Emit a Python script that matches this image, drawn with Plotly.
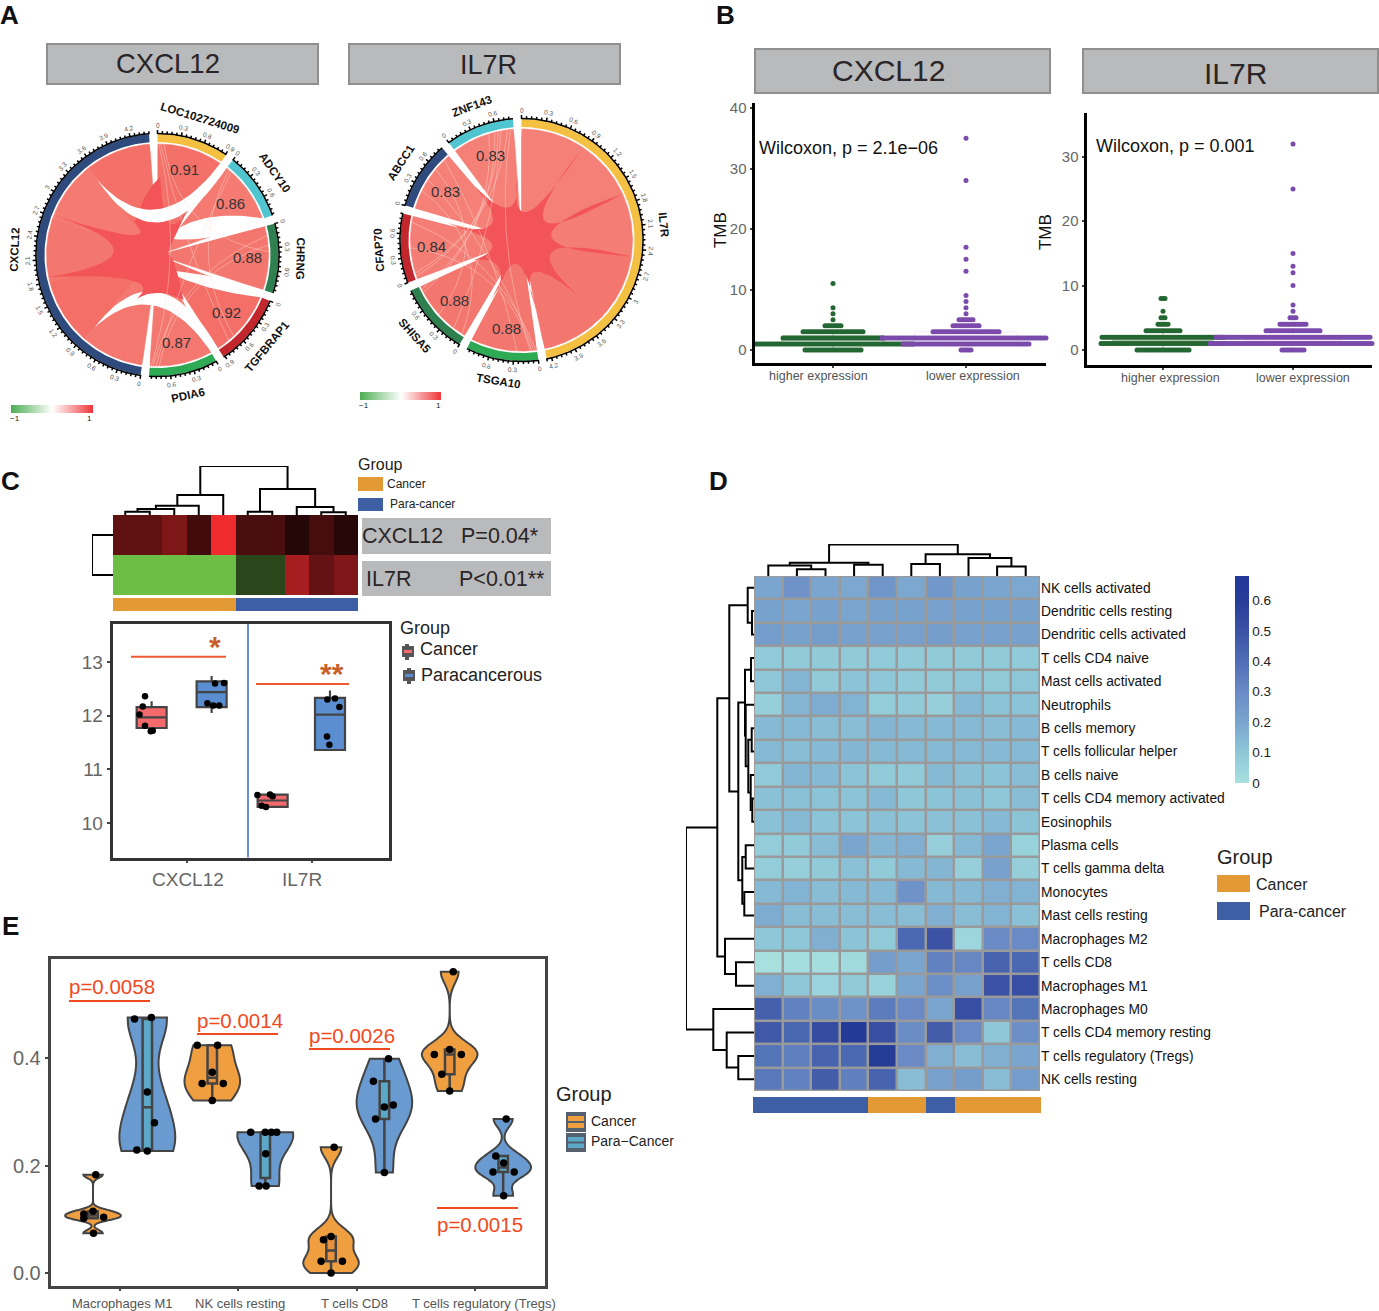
import math
import plotly.graph_objects as go

W, H = 1379, 1311
FONT = "Liberation Sans"

# ---------- Panel A data
A1_GENES = ["LOC102724009", "ADCY10", "CHRNG", "TGFBRAP1", "PDIA6"]
A1_CORR = [0.91, 0.86, 0.88, 0.92, 0.87]
A1_COLORS = ["#f4c042", "#4ec5cf", "#2f8050", "#c2272d", "#2eaa55"]
A1_HUB = "CXCL12"
A1_HUB_COLOR = "#2f4a7d"
A2_GENES = ["TSGA10", "SHISA5", "CFAP70", "ABCC1", "ZNF143"]
A2_CORR = [0.88, 0.88, 0.84, 0.83, 0.83]
A2_COLORS = ["#2eaa55", "#2f8050", "#c2272d", "#2f4a7d", "#4ec5cf"]
A2_HUB = "IL7R"
A2_HUB_COLOR = "#f4c042"
CBAR_VALUES = [-1, -0.5, 0, 0.5, 1]

# ---------- Panel B data (TMB level, number of samples at that level)
B1_HIGH_LEVELS = [0, 1, 2, 3, 4, 5, 6, 7, 11]
B1_HIGH_COUNTS = [29, 81, 51, 31, 9, 1, 1, 1, 1]
B1_LOW_LEVELS = [0, 1, 2, 3, 4, 5, 6, 7, 8, 9, 13, 15, 17, 28, 35]
B1_LOW_COUNTS = [6, 64, 85, 34, 14, 8, 1, 1, 1, 1, 1, 1, 1, 1, 1]
B2_HIGH_LEVELS = [0, 1, 2, 3, 4, 5, 6, 8]
B2_HIGH_COUNTS = [27, 63, 62, 18, 6, 3, 1, 3]
B2_LOW_LEVELS = [0, 1, 2, 3, 4, 5, 6, 7, 10, 12, 13, 15, 25, 32]
B2_LOW_COUNTS = [12, 84, 78, 28, 14, 4, 1, 1, 1, 1, 1, 1, 1, 1]

# ---------- Panel C data
C_ROWS = ["CXCL12", "IL7R"]
C_HEAT = [
    [0.80, 0.80, 1.05, 0.55, 2.0, 0.63, 0.63, 0.32, 0.59, 0.33],
    [-2, -2, -2, -2, -2, -0.75, -0.75, 1.39, 0.84, 1.06],
]
C_GROUP = [0, 0, 0, 0, 0, 1, 1, 1, 1, 1]
C_TOP_MERGES = [(0, 1, 3.3), (10, 2, 6), (11, 3, 9.3), (12, 4, 20), (5, 6, 3.3),
                (8, 9, 2.7), (7, 15, 8), (14, 16, 26), (13, 17, 49)]
C_LEFT_MERGES = [(0, 1, 21)]
C_BOX_X = [0.717, 1.197, 1.685, 2.144]
C_BOX_FILL = ["#f4696b", "#5a8ed0", "#f4696b", "#5a8ed0"]
C_BOX_Q1 = [11.77, 12.16, 10.30, 11.36]
C_BOX_MED = [11.97, 12.44, 10.42, 12.02]
C_BOX_Q3 = [12.16, 12.64, 10.53, 12.33]
C_BOX_LOW = [11.67, 12.05, 10.30, 11.36]
C_BOX_UP = [12.27, 12.74, 10.53, 12.47]
C_PTS_X = [0.664, 0.646, 0.62, 0.664, 0.726, 0.71,
           1.224, 1.296, 1.163, 1.21, 1.258,
           1.563, 1.664, 1.685, 1.597, 1.632,
           2.123, 2.184, 2.219, 2.12, 2.139]
C_PTS_Y = [12.36, 12.17, 12.02, 11.81, 11.72, 11.71,
           12.6, 12.61, 12.23, 12.19, 12.19,
           10.52, 10.53, 10.5, 10.32, 10.3,
           12.3, 12.32, 12.16, 11.61, 11.46]

# ---------- Panel D data
D_ROWS = ["NK cells activated", "Dendritic cells resting", "Dendritic cells activated", "T cells CD4 naive",
          "Mast cells activated", "Neutrophils", "B cells memory", "T cells follicular helper", "B cells naive",
          "T cells CD4 memory activated", "Eosinophils", "Plasma cells", "T cells gamma delta", "Monocytes",
          "Mast cells resting", "Macrophages M2", "T cells CD8", "Macrophages M1", "Macrophages M0",
          "T cells CD4 memory resting", "T cells regulatory (Tregs)", "NK cells resting"]
D_HEAT = [
    [.20, .27, .20, .19, .26, .19, .25, .21, .20, .19],
    [.21, .20, .21, .20, .21, .21, .22, .21, .21, .21],
    [.23, .21, .23, .22, .22, .22, .23, .22, .22, .22],
    [.09, .09, .09, .09, .09, .09, .09, .09, .09, .09],
    [.10, .15, .09, .11, .10, .09, .09, .10, .09, .10],
    [.07, .15, .18, .16, .08, .09, .07, .14, .11, .11],
    [.14, .14, .13, .13, .15, .14, .14, .14, .13, .14],
    [.14, .13, .14, .15, .14, .14, .14, .14, .14, .14],
    [.09, .15, .14, .11, .09, .09, .14, .12, .11, .13],
    [.12, .12, .11, .11, .14, .10, .11, .12, .10, .13],
    [.12, .14, .11, .11, .12, .11, .12, .12, .14, .11],
    [.08, .09, .13, .20, .15, .17, .07, .14, .20, .06],
    [.08, .07, .09, .12, .09, .14, .15, .07, .22, .07],
    [.14, .16, .13, .14, .14, .27, .14, .14, .17, .16],
    [.18, .13, .13, .13, .13, .13, .17, .13, .16, .12],
    [.10, .10, .17, .11, .09, .42, .50, .04, .30, .30],
    [.00, .01, .01, .03, .23, .20, .33, .31, .44, .42],
    [.17, .10, .05, .09, .06, .20, .28, .22, .50, .52],
    [.45, .33, .29, .27, .35, .30, .20, .52, .31, .38],
    [.48, .43, .53, .65, .52, .29, .46, .30, .10, .28],
    [.38, .34, .44, .42, .60, .30, .17, .13, .17, .20],
    [.36, .33, .46, .34, .44, .13, .22, .23, .13, .23],
]
D_GROUP = [1, 1, 1, 1, 0, 0, 1, 0, 0, 0]
D_TOP_MERGES = [(1, 2, 6.8), (0, 10, 10.5), (3, 4, 11.3), (11, 12, 13.2), (5, 6, 12),
                (8, 9, 9.4), (7, 15, 18), (14, 16, 21.8), (13, 17, 31.6)]
D_LEFT_MERGES = [(1, 2, 2), (0, 22, 6.3), (3, 4, 3), (9, 10, 1.7), (8, 25, 3.3), (6, 7, 2.3),
                 (27, 26, 5.7), (5, 28, 8.3), (24, 29, 9), (11, 12, 8.3), (13, 14, 9.7),
                 (31, 32, 11.7), (30, 33, 15.7), (23, 34, 24.7), (16, 17, 18), (15, 36, 29),
                 (35, 37, 36.7), (20, 21, 15.7), (19, 39, 27.3), (18, 40, 40.7), (38, 41, 68)]

# ---------- Panel E data
E_CATS = ["Macrophages M1", "NK cells resting", "T cells CD8", "T cells regulatory (Tregs)"]
E_POS = [0.772, 1.231, 1.78, 2.228, 2.784, 3.235, 3.787, 4.239]
E_Y = [
    [.183, .115, .110, .102, .104, .074],
    [.473, .476, .337, .280, .229, .227],
    [.424, .424, .374, .353, .353, .321],
    [.262, .262, .262, .262, .222, .162, .162],
    [.234, .068, .062, .022, .022, 0],
    [.399, .357, .313, .309, .287, .187],
    [.561, .407, .416, .407, .370, .339],
    [.287, .218, .205, .188, .188, .144],
]
E_X = [
    [.795, .772, .694, .694, .862, .776],
    [1.123, 1.265, 1.231, 1.291, 1.142, 1.231],
    [1.653, 1.825, 1.78, 1.694, 1.873, 1.78],
    [2.105, 2.228, 2.28, 2.325, 2.232, 2.176, 2.235],
    [2.81, 2.784, 2.72, 2.70, 2.88, 2.784],
    [3.27, 3.142, 3.31, 3.235, 3.16, 3.235],
    [3.817, 3.657, 3.787, 3.885, 3.72, 3.787],
    [4.265, 4.176, 4.243, 4.153, 4.332, 4.243],
]
E_BW = [0.006, 0.05, 0.03, 0.032, 0.019, 0.042, 0.021, 0.015]
E_P = ["p=0.0058", "p=0.0014", "p=0.0026", "p=0.0015"]

fig = go.Figure()
layout_axes = {}
shapes = []
annots = []
_axn = [0]


def Y(y):
    # the page photograph sits a few pixels lower at the top than the layout coordinates
    return y * 1315 / 1311 - 4


def axes(x0, x1, y0, y1, xr, yr, xopts=None, yopts=None):
    _axn[0] += 1
    n = _axn[0]
    sx = "" if n == 1 else str(n)
    base = dict(visible=False, showgrid=False, zeroline=False, fixedrange=True)
    xa = dict(base, domain=[x0 / W, x1 / W], range=list(xr), anchor="y" + sx)
    ya = dict(base, domain=[1 - Y(y1) / H, 1 - Y(y0) / H], range=list(yr), anchor="x" + sx)
    xa.update(xopts or {})
    ya.update(yopts or {})
    layout_axes["xaxis" + sx] = xa
    layout_axes["yaxis" + sx] = ya
    return "x" + sx, "y" + sx


def txt(x, y, s, size=12, color="#222", anchor="left", angle=0, bold=False, xref="paper", yref="paper"):
    if xref == "paper":
        x = (x - 2 if anchor == "left" else x) / W
        y = 1 - Y(y) / H
    annots.append(dict(x=x, y=y, xref=xref, yref=yref, text=f"<b>{s}</b>" if bold else s, showarrow=False,
                       xanchor=anchor, yanchor="middle", textangle=angle,
                       font=dict(family=FONT, size=size, color=color)))


def rect(x0, y0, x1, y1, fill, line=None, lw=0):
    shapes.append(dict(type="rect", xref="paper", yref="paper", x0=x0 / W, x1=x1 / W, y0=1 - Y(y0) / H, y1=1 - Y(y1) / H,
                       fillcolor=fill, line=dict(color=line or fill, width=lw), layer="below"))


def pol(t, r):
    a = math.radians(t)
    return r * math.sin(a), r * math.cos(a)


def arc(a, b, r, step=1.5):
    n = max(2, int(abs(b - a) / step) + 1)
    return [pol(a + (b - a) * i / (n - 1), r) for i in range(n)]


def bez(p0, c, p1, n=26):
    out = []
    for i in range(n):
        t = i / (n - 1)
        out.append(((1 - t) ** 2 * p0[0] + 2 * t * (1 - t) * c[0] + t * t * p1[0],
                    (1 - t) ** 2 * p0[1] + 2 * t * (1 - t) * c[1] + t * t * p1[1]))
    return out


def poly(xa, ya, pts, color, lw=0.0):
    fig.add_trace(go.Scatter(x=[p[0] for p in pts], y=[p[1] for p in pts], mode="lines", fill="toself",
                             fillcolor=color, line=dict(color=color, width=lw), xaxis=xa, yaxis=ya,
                             hoverinfo="skip", showlegend=False))


GAP = 4.0
RC, R0, R1 = 111, 113, 121


def chord_panel(cx, cy, genes, corr, colors, hub, hub_color, hub_first, wedges_under, wedges_over, star, links):
    half = 157
    xa, ya = axes(cx - half, cx + half, cy - half, cy + half, (-half, half), (-half, half))
    total = sum(corr) * 2
    k = (360 - 6 * GAP) / total
    sec = {}
    cur = 0.0
    order = ([hub] + genes) if hub_first else (genes + [hub])
    vals = dict(zip(genes, corr))
    vals[hub] = sum(corr)
    cols = dict(zip(genes, colors))
    cols[hub] = hub_color
    for name in order:
        sec[name] = (cur, cur + vals[name] * k)
        cur += vals[name] * k + GAP
    hs, he = sec[hub]
    pos = he
    for g, v in zip(genes, corr):
        g0, g1 = sec[g]
        h0, h1 = pos - v * k, pos
        pos = h0
        s = (v - 0.83) / 0.09
        col = "rgb(%d,%d,%d)" % (245 - 2 * s, 128 - 16 * s, 120 - 16 * s)
        pts = arc(g0, g1, RC) + [(0, 0)] + arc(h0, h1, RC) + [(0, 0)]
        poly(xa, ya, pts, col, 0.6)
    for w in wedges_under:
        draw_wedge(xa, ya, w)
    # overlap star in the centre
    n = len(star)
    spts = []
    for i in range(n):
        t1, r1, v, tv = star[i]
        t2, r2 = star[(i + 1) % n][:2]
        p1, p2 = pol(t1, r1), pol(t2, r2)
        vp = pol(tv, v)
        c = (2 * vp[0] - (p1[0] + p2[0]) / 2, 2 * vp[1] - (p1[1] + p2[1]) / 2)
        spts += bez(p1, c, p2, 18)
    poly(xa, ya, spts, "rgb(243,84,88)")
    for w in wedges_over:
        draw_wedge(xa, ya, w)
    # faint low-correlation links
    for g1, f1, g2, f2 in links:
        a = sec[genes[g1]][0] + f1 * (sec[genes[g1]][1] - sec[genes[g1]][0])
        b = sec[genes[g2]][0] + f2 * (sec[genes[g2]][1] - sec[genes[g2]][0])
        mid = (a + b) / 2
        pts = bez(pol(a, RC), pol(mid, 28), pol(b, RC))
        fig.add_trace(go.Scatter(x=[p[0] for p in pts], y=[p[1] for p in pts], mode="lines",
                                 line=dict(color="rgba(255,225,215,0.5)", width=0.8), xaxis=xa, yaxis=ya,
                                 hoverinfo="skip", showlegend=False))
    # rings, ticks, labels
    tx, ty = [], []
    for name in order:
        a, b = sec[name]
        poly(xa, ya, arc(a, b, R1) + arc(b, a, R0), cols[name])
        outer = arc(a, b, R1 + 0.6)
        tx += [p[0] for p in outer] + [None]
        ty += [p[1] for p in outer] + [None]
        v = 0.0
        i = 0
        while v <= vals[name] + 1e-9:
            t = a + v * k
            major = i % 5 == 0
            p, q = pol(t, R1), pol(t, R1 + (4 if major else 3))
            tx += [p[0], q[0], None]
            ty += [p[1], q[1], None]
            if major:
                lp = pol(t, 130)
                ang = t % 360
                rot = ang - 180 if 95 < ang < 265 else (ang - 360 if ang >= 265 else ang)
                txt(lp[0], lp[1], f"{v:.1f}".rstrip("0").rstrip(".") if v else "0", 6.5, "#555", "center", rot,
                    xref=xa, yref=ya)
            i += 1
            v = i * 0.06
        m = (a + b) / 2
        lp = pol(m, 143)
        rot = m - 180 if 95 < m < 265 else (m - 360 if m >= 265 else m)
        txt(lp[0], lp[1], name, 11.5, "#111", "center", rot, True, xref=xa, yref=ya)
        if name != hub:
            lp = pol(m, 90)
            txt(lp[0], lp[1], f"{vals[name]:.2f}", 15, "#333", "center", xref=xa, yref=ya)
    fig.add_trace(go.Scatter(x=tx, y=ty, mode="lines", line=dict(color="#000", width=1.5), xaxis=xa, yaxis=ya,
                             hoverinfo="skip", showlegend=False))
    return sec


def draw_wedge(xa, ya, w):
    a, b, tip, c1, c2 = w
    T = pol(*tip)
    pa = pol(a, RC + 1)
    pb = pol(b, RC + 1)
    p1 = bez(pa, pol(*c1), T) if c1 else [pa, T]
    p2 = bez(pb, pol(*c2), T) if c2 else [pb, T]
    poly(xa, ya, p1 + p2[::-1], "#ffffff")


# A1 wedges between chords (angles follow the sector layout)
a1_under = [
    (70.9, 74.9, (20, 18), (42, 64), (75, 43)),
    (108.2, 112.2, (158, 16), (108.6, 59), (129, 56)),
    (147.0, 151.0, (221, 96), (185, -10), (185, 16)),
    (183.9, 187.9, (186, 68), None, None),
    (355.9, 360.0, (358, 78), None, None),
]
a1_over = [(34.4, 38.4, (321.3, 96), (358, 8), (358, -16))]
a1_star = [(2, 78, 35, 18), (34, 52, 20, 48), (90, 10, 20, 120), (150, 52, 38, 178), (205, 48, 37, 228),
           (258.5, 111, 44, 275), (291, 111, 35, 305), (325, 40, 62, 350)]
a1_links = [(0, 0.05, 3, 0.8), (1, 0.1, 4, 0.9), (2, 0.15, 4, 0.95), (2, 0.3, 4, 0.85), (0, 0.02, 4, 0.98),
            (1, 0.05, 3, 0.7), (2, 0.4, 0, 0.1)]
chord_panel(157.5, 255, A1_GENES, A1_CORR, A1_COLORS, A1_HUB, A1_HUB_COLOR, False, a1_under, a1_over, a1_star, a1_links)

a2_under = [
    (168.0, 172.0, (170, 72), None, None),
    (206.7, 210.7, (205, 52), None, None),
    (245.4, 249.4, (247, 50), None, None),
    (282.5, 286.5, (281, 64), None, None),
    (319.2, 323.2, (319, 66), None, None),
    (355.9, 360.0, (358, 66), None, None),
]
a2_star = [(33.4, 111, 30, 50), (65.4, 111, 30, 82), (98.5, 111, 32, 116), (133.2, 111, 36, 152), (168, 72, 25, 187),
           (205, 51, 35, 226), (247, 52, 30, 264), (281, 68, 34, 300), (319, 71, 35, 338), (356, 63, 30, 15)]
a2_links = [(4, 0.95, 0, 0.1), (4, 0.8, 1, 0.2), (4, 0.6, 1, 0.9), (3, 0.9, 0, 0.3), (3, 0.7, 1, 0.5), (3, 0.5, 0, 0.05),
            (2, 0.1, 4, 0.9), (2, 0.9, 0, 0.02), (2, 0.5, 0, 0.08), (3, 0.3, 1, 0.05), (1, 0.95, 4, 0.7), (2, 0.05, 4, 0.75)]
chord_panel(521.5, 240, A2_GENES, A2_CORR, A2_COLORS, A2_HUB, A2_HUB_COLOR, True, a2_under, [], a2_star, a2_links)


def mini_cbar(x0, x1, y0, y1):
    xa, ya = axes(x0, x1, y0, y1, (0, 4), (-0.5, 0.5))
    fig.add_trace(go.Heatmap(z=[CBAR_VALUES], x=[0, 1, 2, 3, 4], y=[0], zmin=-1, zmax=1, zsmooth="best", showscale=False,
                             colorscale=[[0, "#4fae55"], [0.5, "#ffffff"], [1, "#ef3436"]], xaxis=xa, yaxis=ya,
                             hoverinfo="skip"))
    txt(x0 + 4, y1 + 5, "−1", 8, "#222", "center")
    txt(x1 - 3, y1 + 5, "1", 8, "#222", "center")


mini_cbar(11, 93, 405, 413)
mini_cbar(360, 441, 392, 400)

for x0, x1, y0, y1, s, size, tx_c, ty_c in [(47, 318, 44, 84, "CXCL12", 27.5, 168, 63),
                                            (349, 620, 44, 84, "IL7R", 27, 488, 65),
                                            (755, 1050, 49, 93, "CXCL12", 30, 888, 70),
                                            (1083, 1378, 49, 93, "IL7R", 30, 1235, 73)]:
    rect(x0, y0, x1, y1, "#b9babc", "#8f8f90", 2)
    txt(tx_c, ty_c, s, size, "#2a2526", "center")


# ---------- Panel B
def swarm(levels, counts, pos, spacing):
    xs, ys = [], []
    for lv, n in zip(levels, counts):
        for i in range(n):
            xs.append(pos + (i - (n - 1) / 2) * spacing)
            ys.append(lv)
    return xs, ys


def tmb_panel(x0, x1, y0, y1, y_zero, px_unit, cat1, cat2, high, low, ticks, pstr, p_xy, tmb_xy, lab1, lab2, boxes):
    unit = cat2 - cat1
    xr = (1 + (x0 - cat1) / unit, 1 + (x1 - cat1) / unit)
    yr = ((y_zero - y1) / px_unit, (y_zero - y0) / px_unit)
    ax_common = dict(visible=True, showline=True, linecolor="#000", linewidth=3, ticks="outside", ticklen=2,
                     tickcolor="#444", tickwidth=1.5)
    xa, ya = axes(x0, x1, y0, y1, xr, yr,
                  dict(ax_common, tickvals=[1, 2], ticktext=["", ""]),
                  dict(ax_common, tickvals=ticks, tickfont=dict(family=FONT, size=15, color="#666")))
    sp = 2.0 / unit
    for (lv, ct), pos, col in ((high, 1, "#246733"), (low, 2, "#7b4bab")):
        xs, ys = swarm(lv, ct, pos, sp)
        fig.add_trace(go.Scatter(x=xs, y=ys, mode="markers", marker=dict(color=col, size=5, line=dict(width=0)),
                                 xaxis=xa, yaxis=ya, hoverinfo="skip", showlegend=False, cliponaxis=False))
    for pos, q1, med, q3, lf, uf, w, col in boxes:
        fig.add_trace(go.Box(x=[pos], q1=[q1], median=[med], q3=[q3], lowerfence=[lf], upperfence=[uf], width=w,
                             line=dict(color=col, width=1), fillcolor="rgba(0,0,0,0)", boxpoints=False,
                             whiskerwidth=0, xaxis=xa, yaxis=ya, hoverinfo="skip", showlegend=False))
    txt(p_xy[0], p_xy[1], pstr, 18, "#111")
    txt(tmb_xy[0], tmb_xy[1], "TMB", 17, "#111", "center", -90)
    txt(lab1[0], lab1[1], "higher expression", 12.5, "#555", "center")
    txt(lab2[0], lab2[1], "lower expression", 12.5, "#555", "center")


tmb_panel(754.5, 1046, 103, 362.5, 350, 6.05, 833, 966, (B1_HIGH_LEVELS, B1_HIGH_COUNTS), (B1_LOW_LEVELS, B1_LOW_COUNTS),
          [0, 10, 20, 30, 40], "Wilcoxon, p = 2.1e−06", (759, 148), (720, 230), (818, 376), (973, 376),
          [(1, 0.9, 1.65, 2.3, 0, 3, 0.77, "#a8b89a"), (2, 1.2, 2, 3, 0, 4, 0.77, "#f0e8f8")])
tmb_panel(1086.5, 1372, 113, 364.5, 350, 6.44, 1163, 1293, (B2_HIGH_LEVELS, B2_HIGH_COUNTS), (B2_LOW_LEVELS, B2_LOW_COUNTS),
          [0, 10, 20, 30], "Wilcoxon, p = 0.001", (1096, 146), (1045, 232), (1170, 378), (1303, 378),
          [(1, 0.9, 1.5, 2.0, 0, 3, 0.77, "#a8b89a"), (2, 1, 1.5, 2, 0, 3, 0.75, "#f0e8f8")])


# ---------- Dendrogram helper
def dendro(merges, n):
    pos = {i: float(i) for i in range(n)}
    hgt = {i: 0.0 for i in range(n)}
    a, b = [], []
    for k, (l, r, h) in enumerate(merges):
        a += [pos[l], pos[l], pos[r], pos[r], None]
        b += [hgt[l], h, h, hgt[r], None]
        pos[n + k] = (pos[l] + pos[r]) / 2
        hgt[n + k] = h
    return a, b


def line_trace(xa, ya, x, y, color="#000", width=2):
    fig.add_trace(go.Scatter(x=x, y=y, mode="lines", line=dict(color=color, width=width), xaxis=xa, yaxis=ya,
                             hoverinfo="skip", showlegend=False, cliponaxis=False))


GROUP_SCALE = [[0, "#e39a35"], [1, "#3f5fa5"]]

# ---------- Panel C
xa, ya = axes(113, 358, 515, 595, (-0.5, 9.5), (1.5, -0.5))
fig.add_trace(go.Heatmap(z=C_HEAT, zmin=-2, zmax=2, showscale=False, xaxis=xa, yaxis=ya, hoverinfo="skip",
                         colorscale=[[0, "#6cbe45"], [0.5, "#000000"], [1, "#ef2b2d"]]))
xa, ya = axes(113, 358, 598, 611, (-0.5, 9.5), (-0.5, 0.5))
fig.add_trace(go.Heatmap(z=[C_GROUP], zmin=0, zmax=1, showscale=False, colorscale=GROUP_SCALE, xaxis=xa, yaxis=ya,
                         hoverinfo="skip"))
xa, ya = axes(113, 358, 466, 515, (-0.5, 9.5), (0, 49))
x_, y_ = dendro(C_TOP_MERGES, 10)
line_trace(xa, ya, x_, y_)
xa, ya = axes(92, 113, 515, 595, (21, 0), (1.5, -0.5))
y_, x_ = dendro(C_LEFT_MERGES, 2)
line_trace(xa, ya, x_, y_)

rect(362, 518, 551, 554, "#b9babc")
rect(362, 561, 551, 596, "#b9babc")
txt(362, 536, C_ROWS[0], 21.5, "#2a2526")
txt(461, 536, "P=0.04*", 21.5, "#2a2526")
txt(366, 579, C_ROWS[1], 21.5, "#2a2526")
txt(459, 579, "P<0.01**", 21.5, "#2a2526")
txt(358, 464, "Group", 16, "#222")
rect(358, 477, 383, 491, "#e39a35")
rect(358, 498, 383, 511, "#3f5fa5")
txt(387, 484, "Cancer", 12, "#222")
txt(390, 504, "Para-cancer", 12, "#222")

ax_frame = dict(visible=True, showline=True, linecolor="#333", linewidth=2.5, mirror=True, ticks="outside",
                ticklen=3, tickcolor="#444", tickwidth=1.5)
xa, ya = axes(112.5, 388.5, 623.5, 857.5, (1 + (112.5 - 187) / 125, 1 + (388.5 - 187) / 125),
              (10 - 34.5 / 53.7, 13 + 38.5 / 53.7),
              dict(ax_frame, tickvals=[1, 2], ticktext=["", ""]),
              dict(ax_frame, tickvals=[10, 11, 12, 13], tickfont=dict(family=FONT, size=19, color="#666")))
for i in range(4):
    fig.add_trace(go.Box(x=[C_BOX_X[i]], q1=[C_BOX_Q1[i]], median=[C_BOX_MED[i]], q3=[C_BOX_Q3[i]],
                         lowerfence=[C_BOX_LOW[i]], upperfence=[C_BOX_UP[i]], width=0.24, whiskerwidth=0,
                         fillcolor=C_BOX_FILL[i], line=dict(color="#444", width=2.2), boxpoints=False,
                         xaxis=xa, yaxis=ya, hoverinfo="skip", showlegend=False))
fig.add_trace(go.Scatter(x=C_PTS_X, y=C_PTS_Y, mode="markers", marker=dict(color="#000", size=6.5), xaxis=xa, yaxis=ya,
                         hoverinfo="skip", showlegend=False))
line_trace(xa, ya, [0.552, 1.312], [13.1, 13.1], "#ef5a33", 2)
line_trace(xa, ya, [1.552, 2.296], [12.59, 12.59], "#ef5a33", 2)
line_trace(xa, ya, [1.488, 1.488], [13.71, 9.3], "#6b8fd4", 2)
txt(215, 646, "*", 30, "#c8602a", "center", bold=True)
txt(332, 673, "**", 30, "#c8602a", "center", bold=True)
txt(188, 879, C_ROWS[0], 19, "#666", "center")
txt(302, 879, C_ROWS[1], 19, "#666", "center")
txt(400, 628, "Group", 18, "#222")
txt(420, 649, "Cancer", 18, "#222")
txt(421, 675, "Paracancerous", 18, "#222")
rect(405, 644, 409, 660, "#55555a")
rect(402, 646, 414, 657, "#55555a")
rect(404, 650, 412, 653, "#f4696b")
rect(407, 668, 411, 684, "#55555a")
rect(403, 670, 415, 681, "#55555a")
rect(405, 674, 413, 677, "#5a8ed0")

# ---------- Panel D
rect(754, 576, 1040, 1091, "#9a9a9a")
xa, ya = axes(754, 1040, 576, 1091, (-0.5, 9.5), (21.5, -0.5),
              None,
              dict(visible=True, side="right", showline=False, ticks="", tickvals=list(range(22)), ticktext=D_ROWS,
                   tickfont=dict(family=FONT, size=13.8, color="#111")))
fig.add_trace(go.Heatmap(z=D_HEAT, zmin=0, zmax=0.68, xgap=2.5, ygap=2.5, xaxis=xa, yaxis=ya, hoverinfo="skip",
                         colorscale=[[0, "#a8e0e0"], [0.147, "#8ec8d8"], [0.294, "#7aa5cf"], [0.44, "#6a8ac5"],
                                     [0.588, "#4f6eb5"], [0.735, "#3b52a5"], [0.88, "#263d98"], [1, "#22389a"]],
                         colorbar=dict(x=1235 / W, xanchor="left", y=1 - Y(576) / H, yanchor="top", lenmode="pixels", len=207,
                                       thicknessmode="pixels", thickness=14, outlinewidth=0, ticks="", xpad=0, ypad=0,
                                       tickvals=[0, .1, .2, .3, .4, .5, .6], ticktext=["0", "0.1", "0.2", "0.3", "0.4", "0.5", "0.6"],
                                       tickfont=dict(family=FONT, size=13.5, color="#222"))))
xa, ya = axes(753, 1041, 1097, 1113, (-0.5, 9.5), (-0.5, 0.5))
fig.add_trace(go.Heatmap(z=[D_GROUP], zmin=0, zmax=1, showscale=False, colorscale=GROUP_SCALE, xaxis=xa, yaxis=ya,
                         hoverinfo="skip"))
xa, ya = axes(754, 1040, 544, 576, (-0.5, 9.5), (0, 32))
x_, y_ = dendro(D_TOP_MERGES, 10)
line_trace(xa, ya, x_, y_)
xa, ya = axes(686, 754, 576, 1091, (68, 0), (21.5, -0.5))
y_, x_ = dendro(D_LEFT_MERGES, 22)
line_trace(xa, ya, x_, y_)
txt(1217, 857, "Group", 20, "#222")
rect(1217, 875, 1250, 892, "#e39a35")
rect(1217, 902, 1250, 920, "#3f5fa5")
txt(1256, 884, "Cancer", 16, "#222")
txt(1259, 911, "Para-cancer", 16, "#222")

# ---------- Panel E
UX = 118.3
xa, ya = axes(50.5, 544.5, 958.5, 1285.5, (1 + (50.5 - 120) / UX, 1 + (544.5 - 120) / UX), (-12.5 / 537, 314.5 / 537),
              dict(ax_frame, linecolor="#444", tickvals=[1, 2, 3, 4], ticktext=["", "", "", ""]),
              dict(ax_frame, linecolor="#444", tickvals=[0, 0.2, 0.4], ticktext=["0.0", "0.2", "0.4"],
                   tickfont=dict(family=FONT, size=20, color="#666")))
for i, p in enumerate(E_POS):
    orange = i % 2 == 0
    fig.add_trace(go.Violin(x=[p] * len(E_Y[i]), y=E_Y[i], width=0.47, bandwidth=E_BW[i], spanmode="hard",
                            scalemode="width", points=False,
                            fillcolor="#ef9f40" if orange else "#6a9bd0", line=dict(color="#444", width=2),
                            box=dict(visible=True, width=0.17, fillcolor="#e8903a" if orange else "#5ba8c8",
                                     line=dict(color="#444", width=2.5)),
                            meanline=dict(visible=False), xaxis=xa, yaxis=ya, hoverinfo="skip", showlegend=False))
for xs, ys in zip(E_X, E_Y):
    fig.add_trace(go.Scatter(x=xs, y=ys, mode="markers", marker=dict(color="#000", size=7.5), xaxis=xa, yaxis=ya,
                             hoverinfo="skip", showlegend=False, cliponaxis=False))
for (lx0, lx1, ly), (tx_, ty_), s in zip([(69, 150, 1001), (197, 278, 1034), (309, 390, 1049), (437, 518, 1208)],
                                         [(112, 986), (240, 1020), (352, 1035), (480, 1224)], E_P):
    line_trace(xa, ya, [1 + (lx0 - 120) / UX, 1 + (lx1 - 120) / UX], [(1273 - ly) / 537] * 2, "#f04a1e", 2.2)
    txt(tx_, ty_, s, 20.5, "#f04a1e", "center")
for cx_, s in zip([122, 240, 355, 484], E_CATS):
    txt(cx_, 1303, s, 13, "#555", "center")
txt(556, 1094, "Group", 20, "#222")
rect(566, 1112, 586, 1132, "#55606e")
rect(568, 1116, 584, 1121, "#ef9f40")
rect(568, 1123, 584, 1128, "#ef9f40")
rect(566, 1133, 586, 1152, "#55606e")
rect(568, 1137, 584, 1141.5, "#5ba8c8")
rect(568, 1143.5, 584, 1148, "#5ba8c8")
txt(591, 1121, "Cancer", 14, "#222")
txt(591, 1141, "Para−Cancer", 14, "#222")

for s, x, y in [("A", 9, 15), ("B", 725, 15), ("C", 10, 481), ("D", 718, 481), ("E", 10, 926)]:
    txt(x, y, s, 26, "#111", "center", bold=True)

fig.update_layout(width=W, height=H, autosize=False, margin=dict(l=0, r=0, t=0, b=0, pad=0),
                  paper_bgcolor="#ffffff", plot_bgcolor="rgba(0,0,0,0)", showlegend=False,
                  boxmode="overlay", violinmode="overlay", shapes=shapes, annotations=annots,
                  font=dict(family=FONT), **layout_axes)
fig.write_html("out.html", config={"displayModeBar": False},
               post_script="document.body.style.margin='0';document.body.style.overflow='hidden';")
